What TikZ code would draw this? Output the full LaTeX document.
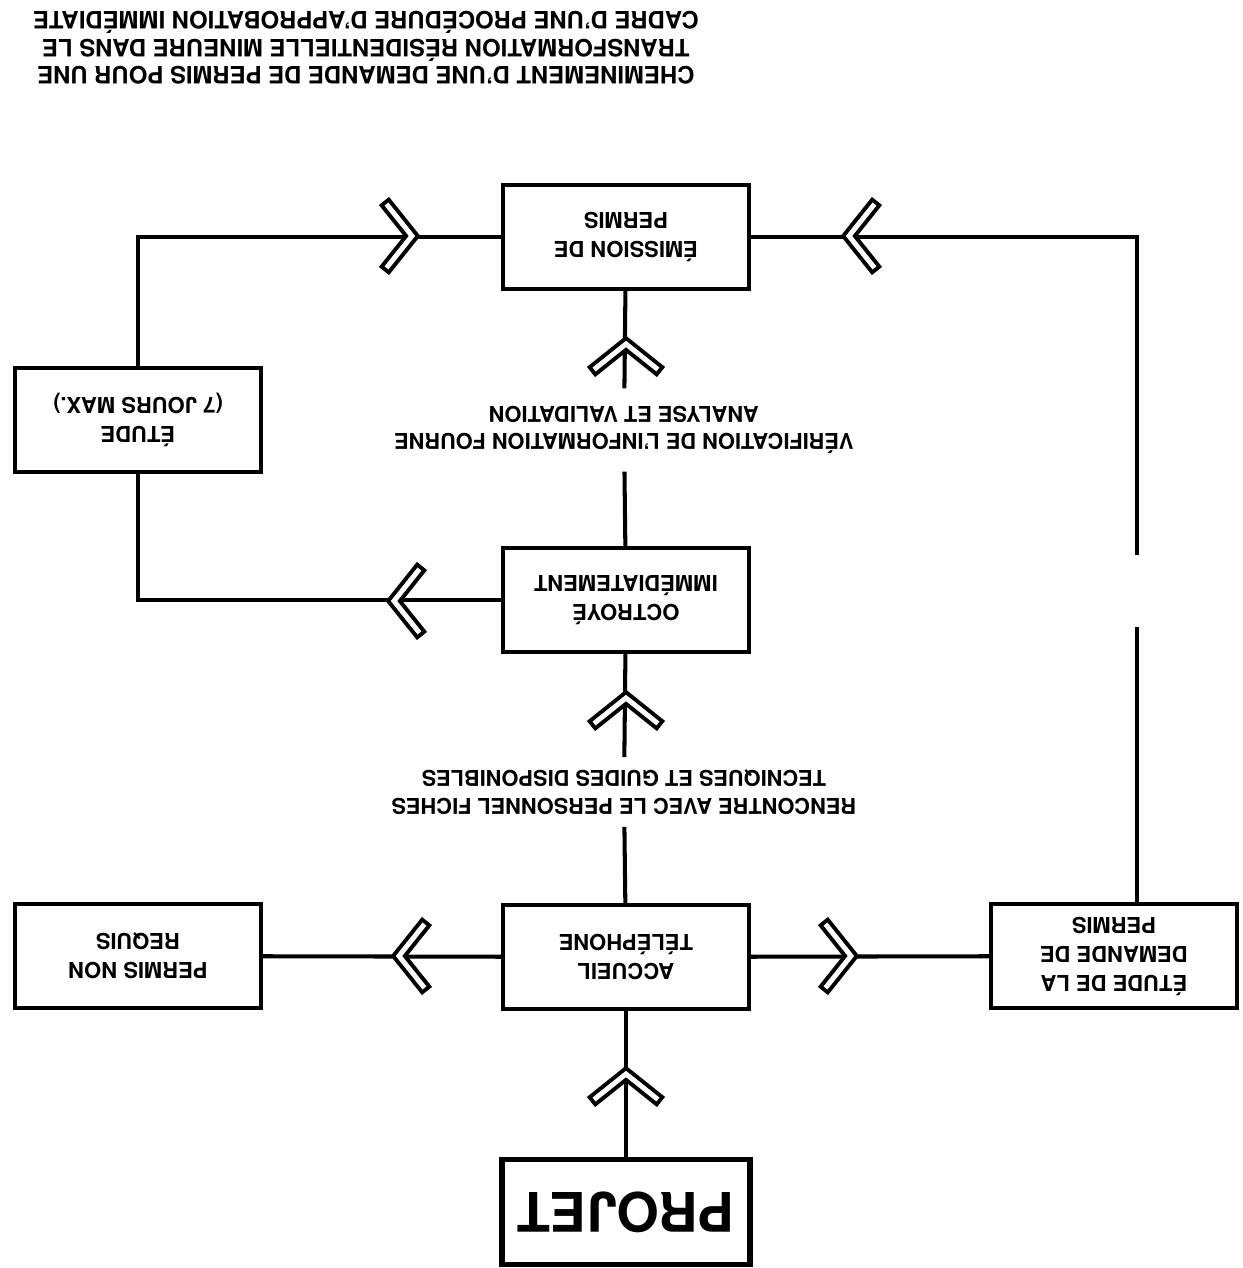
\documentclass[tikz,border=0pt]{standalone}
\usepackage{fontspec}
\setmainfont{TeX Gyre Heros}
\usepackage{tikz}
\usetikzlibrary{positioning}

\begin{document}
\begin{tikzpicture}[
  x=0.02cm, y=-0.02cm, rotate=180, transform shape,
  box/.style={draw,line width=2.3pt,align=center,minimum width=4.92cm,minimum height=2.08cm,
    font=\bfseries\fontsize{12.5}{16.5}\selectfont},
  bigbox/.style={box,line width=3.2pt,minimum width=4.96cm,minimum height=2.1cm,
    font=\bfseries\fontsize{31}{36}\selectfont},
  step note/.style={align=center,inner sep=7pt,font=\bfseries\fontsize{12.4}{15.5}\selectfont},
  conn/.style={line width=2.3pt},
  chev/.pic={
    \draw[line width=7.4pt,line join=miter] (-28,35) -- (0,0) -- (-28,-35);
    \draw[white,line width=2.8pt,line join=miter] (-25.5,31.9) -- (0,0) -- (-25.5,-31.9);
  }
]
\useasboundingbox (0,0) rectangle (1242,1268);

\node[bigbox] (projet) at (616,56) {PROJET};
\node[box] (accueil) at (616,311) {ACCUEIL\\TÉLÉPHONE};
\node[box] (nonrequis) at (1104,312) {PERMIS NON\\REQUIS};
\node[box] (demande) at (128,312) {ÉTUDE DE LA\\DEMANDE DE\\PERMIS};
\node[step note] (rencontre) at (618,476) {RENCONTRE AVEC LE PERSONNEL FICHES\\TECNIQUES ET GUIDES DISPONIBLES};
\node[box] (octroye) at (616,668) {OCTROYÉ\\IMMÉDIATEMENT};
\node[box] (etude) at (1104,848) {ÉTUDE\\(7 JOURS MAX.)};
\node[step note,inner sep=10pt] (verif) at (618,838) {VÉRIFICATION DE L’INFORMATION FOURNE\\ANALYSE ET VALIDATION};
\node[box] (emission) at (616,1031) {ÉMISSION DE\\PERMIS};
\node[align=center,font=\bfseries\fontsize{13.6}{15.6}\selectfont] (titre) at (876,1220)
  {CHEMINEMENT D’UNE DEMANDE DE PERMIS POUR UNE\\TRANSFORMATION RÉSIDENTIELLE MINEURE DANS LE\\CADRE D’UNE PROCÉDURE D’APPROBATION IMMÉDIATE};

\coordinate (coupeA) at (105,641);
\coordinate (coupeB) at (105,713);

% liens
\draw[conn] (projet) -- (accueil);
\draw[conn] (accueil) -- (nonrequis);
\draw[conn] (accueil) -- (demande);
\draw[conn] (accueil) -- (rencontre);
\draw[conn] (rencontre) -- (octroye);
\draw[conn] (octroye) -- (verif);
\draw[conn] (verif) -- (emission);
\draw[conn] (octroye) -| (etude);
\draw[conn] (etude) |- (emission);
\draw[conn] (demande.south -| coupeA) -- (coupeA);
\draw[conn] (coupeB) |- (emission);

% fleches
\pic[rotate=-90] at (616,194) {chev};
\pic at (843,312) {chev};
\pic[rotate=180] at (391,312) {chev};
\pic[rotate=-90] at (616,570) {chev};
\pic[rotate=-90] at (616,924) {chev};
\pic at (848,667) {chev};
\pic[rotate=180] at (830,1032) {chev};
\pic at (393,1032) {chev};
\end{tikzpicture}
\end{document}
